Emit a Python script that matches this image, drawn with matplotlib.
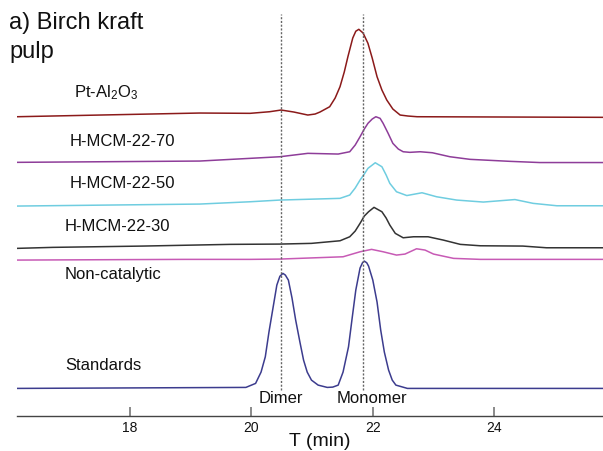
import matplotlib
matplotlib.use("Agg")
import matplotlib.pyplot as plt

plt.rcParams['font.family'] = ['Liberation Sans', 'DejaVu Sans']
plt.rcParams['mathtext.default'] = 'regular'

# retention time (min) and stacked detector signal (a.u.)
pt_t = [16.14, 17.51, 19.15, 19.98, 20.30, 20.49, 20.70, 20.93, 21.05, 21.13, 21.29, 21.38, 21.46,
        21.53, 21.59, 21.67, 21.72, 21.77, 21.84, 21.92, 21.99, 22.07, 22.15, 22.23, 22.33, 22.45,
        22.58, 22.73, 25.79]
pt_y = [299.0, 300.7, 302.7, 302.4, 304.0, 305.7, 303.7, 300.7, 301.7, 303.7, 309.0, 317.7, 329.0,
        343.7, 359.0, 377.7, 384.5, 386.4, 382.7, 372.4, 357.7, 339.0, 325.7, 315.7, 306.7, 300.7,
        299.7, 299.0, 298.4]

m70_t = [16.14, 19.15, 19.98, 20.47, 20.93, 21.43, 21.62, 21.71, 21.79, 21.86, 21.92, 21.99, 22.05,
         22.12, 22.17, 22.25, 22.33, 22.42, 22.50, 22.61, 22.78, 22.98, 23.27, 23.60, 24.26, 24.75, 25.79]
m70_y = [253.4, 254.7, 257.4, 259.0, 262.4, 261.7, 264.0, 270.7, 279.0, 286.7, 292.4, 296.7, 299.0,
         297.4, 292.4, 282.7, 272.4, 266.7, 264.0, 263.4, 264.0, 263.0, 259.0, 256.4, 254.4, 253.2, 253.2]

m50_t = [16.14, 19.15, 19.98, 20.47, 21.46, 21.62, 21.71, 21.79, 21.86, 21.92, 22.04, 22.15,
         22.22, 22.28, 22.39, 22.56, 22.81, 23.05, 23.38, 23.82, 24.34, 24.64, 25.03, 25.79]
m50_y = [209.7, 211.7, 214.0, 215.7, 217.4, 220.7, 227.7, 235.7, 241.7, 247.4, 253.0, 249.0,
         240.7, 232.4, 224.0, 220.2, 223.0, 219.0, 215.7, 213.7, 216.2, 212.4, 210.0, 210.0]

m30_t = [16.14, 16.73, 18.21, 19.65, 20.47, 20.99, 21.46, 21.62, 21.71, 21.79, 21.86, 21.93, 22.02,
         22.15, 22.22, 22.28, 22.37, 22.50, 22.67, 22.91, 23.16, 23.44, 23.77, 24.47, 24.86, 25.79]
m30_y = [167.4, 168.4, 169.7, 171.4, 171.7, 172.4, 175.0, 179.0, 184.7, 192.4, 199.7, 204.0, 208.4,
         204.0, 197.7, 190.7, 182.4, 178.0, 179.0, 179.0, 175.7, 171.4, 170.0, 169.7, 168.0, 168.0]

nc_t = [16.14, 18.91, 19.98, 20.47, 21.51, 21.79, 21.98, 22.17, 22.39, 22.53, 22.72, 22.86,
        23.00, 23.33, 23.77, 25.79]
nc_y = [155.7, 156.4, 156.4, 156.7, 159.0, 164.0, 166.4, 164.0, 160.7, 161.7, 167.0, 165.7,
        161.7, 157.4, 156.4, 156.4]

std_t = [16.14, 19.91, 20.07, 20.16, 20.23, 20.29, 20.36, 20.42, 20.47, 20.52, 20.56, 20.61, 20.67,
         20.73, 20.80, 20.86, 20.92, 20.99, 21.10, 21.25, 21.34, 21.43, 21.51, 21.60, 21.66,
         21.72, 21.79, 21.83, 21.86, 21.90, 21.93, 22.00, 22.07, 22.13, 22.19, 22.26, 22.32, 22.38,
         22.57, 25.79]
std_y = [27.4, 28.4, 32.4, 43.7, 59.0, 83.7, 109.0, 130.7, 139.5, 142.4, 140.7, 135.7, 117.7,
         95.7, 73.7, 55.7, 43.7, 35.7, 30.7, 28.4, 28.7, 30.7, 43.7, 69.0, 97.7,
         125.7, 147.7, 153.0, 154.7, 153.0, 149.7, 135.7, 113.7, 85.7, 63.7, 45.7, 35.7, 30.7,
         27.4, 27.4]

dimer_t = 20.49
monomer_t = 21.84
xticks = [18, 20, 22, 24]

fig = plt.figure(figsize=(6.03, 4.51), dpi=100)
ax = fig.add_axes([0.028, 0.078, 0.972, 0.922])

traces = [
    (pt_t, pt_y, '#8b1a1a', 'Pt-Al$_2$O$_3$', 17.08, 322.7),
    (m70_t, m70_y, '#8e3d99', 'H-MCM-22-70', 17.01, 274.0),
    (m50_t, m50_y, '#6fcde0', 'H-MCM-22-50', 17.01, 232.4),
    (m30_t, m30_y, '#333333', 'H-MCM-22-30', 16.93, 189.0),
    (nc_t, nc_y, '#c75ab5', 'Non-catalytic', 16.93, 141.4),
    (std_t, std_y, '#3c3c8e', 'Standards', 16.93, 50.7),
]
for t, y, c, name, lx, ly in traces:
    ax.plot(t, y, color=c, lw=1.1)
    ax.text(lx, ly, name, fontsize=12, ha='left', va='center', color='#111111')

# reference positions
for xv in (dimer_t, monomer_t):
    ax.plot([xv, xv], [25.7, 401.7], color='#666666', lw=1.0, linestyle=(0, (1.5, 1.2)))
ax.text(dimer_t, 12.7, 'Dimer', fontsize=12, ha='center', va='baseline', color='#111111')
ax.text(21.98, 12.7, 'Monomer', fontsize=12, ha='center', va='baseline', color='#111111')

ax.set_xlim(16.14, 25.79)
ax.set_ylim(0, 415.7)
ax.set_xticks(xticks)
ax.set_xticklabels([str(v) for v in xticks])
ax.set_yticks([])
for s in ('top', 'right', 'left'):
    ax.spines[s].set_visible(False)
ax.spines['bottom'].set_color('#444444')
ax.spines['bottom'].set_linewidth(1.0)
ax.tick_params(axis='x', direction='in', length=6.5, width=1.2, color='#777777',
               labelsize=10, pad=3.5, labelcolor='#111111')
ax.patch.set_alpha(0)

fig.text(0.531, 0.011, 'T (min)', fontsize=14, ha='center', va='baseline', color='#111111')
fig.text(0.0154, 0.949, 'a) Birch kraft', fontsize=17, ha='left', va='center', color='#111111')
fig.text(0.0154, 0.885, 'pulp', fontsize=17, ha='left', va='center', color='#111111')

fig.savefig('out.png', dpi=100)
